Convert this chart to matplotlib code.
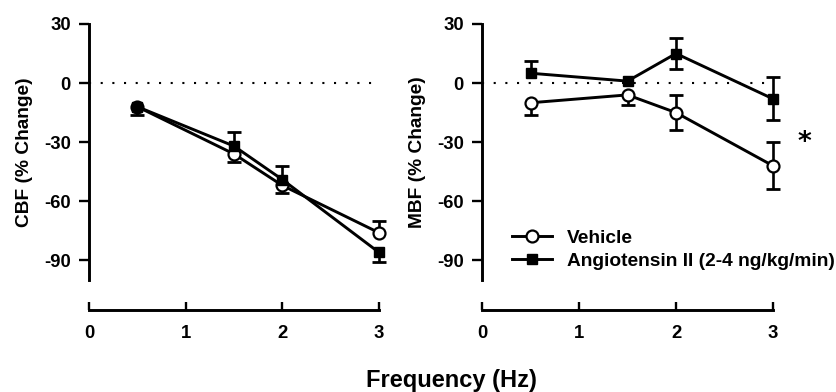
import numpy as np
import matplotlib
matplotlib.use("Agg")
import matplotlib.pyplot as plt

# ---------------- data ----------------
freq = np.array([0.5, 1.5, 2.0, 3.0])

cbf_vehicle = np.array([-12, -36, -52, -76])
cbf_vehicle_lo = np.array([4, 4, 4, 0])
cbf_vehicle_hi = np.array([0, 0, 0, 6])
cbf_ang = np.array([-12, -32, -49, -86])
cbf_ang_lo = np.array([0, 0, 0, 5])
cbf_ang_hi = np.array([0, 7, 7, 0])

mbf_vehicle = np.array([-10, -6, -15, -42])
mbf_vehicle_lo = np.array([6, 5, 9, 12])
mbf_vehicle_hi = np.array([0, 0, 9, 12])
mbf_ang = np.array([5, 1, 15, -8])
mbf_ang_lo = np.array([0, 0, 8, 11])
mbf_ang_hi = np.array([6, 0, 8, 11])

yticks = [30, 0, -30, -60, -90]
xticks = [0, 1, 2, 3]
series_labels = ["Vehicle", "Angiotensin II (2-4 ng/kg/min)"]
ylabels = ["CBF (% Change)", "MBF (% Change)"]
xlabel = "Frequency (Hz)"

# ---------------- style ----------------
plt.rcParams['font.family'] = ['Liberation Sans', 'DejaVu Sans']
plt.rcParams['font.weight'] = 'bold'
plt.rcParams['axes.labelweight'] = 'bold'
plt.rcParams['axes.unicode_minus'] = False

W, H = 836, 392
fig = plt.figure(figsize=(W / 100, H / 100), dpi=100)

LW = 2.1
TICKFS = 13.3


def errbars(ax, x, y, lo, hi):
    sel = lo > 0
    ax.vlines(x[sel], y[sel] - lo[sel], y[sel], colors='black', lw=1.9, zorder=2, clip_on=False)
    ax.plot(x[sel], y[sel] - lo[sel], ls='none', marker='_', ms=9.5, mew=2.0, color='black', zorder=2, clip_on=False)
    sel = hi > 0
    ax.vlines(x[sel], y[sel], y[sel] + hi[sel], colors='black', lw=1.9, zorder=2, clip_on=False)
    ax.plot(x[sel], y[sel] + hi[sel], ls='none', marker='_', ms=9.5, mew=2.0, color='black', zorder=2, clip_on=False)


def panel(rect, veh, veh_lo, veh_hi, ang, ang_lo, ang_hi, ylabel):
    ax = fig.add_axes(rect)
    ax.axhline(0, color='black', lw=1.5, ls=(0, (1, 4.6)), zorder=1)
    errbars(ax, freq, veh, veh_lo, veh_hi)
    errbars(ax, freq, ang, ang_lo, ang_hi)
    h1, = ax.plot(freq, veh, color='black', lw=LW, marker='o', ms=8.6,
                  mfc='white', mec='black', mew=1.6, zorder=3, clip_on=False)
    h2, = ax.plot(freq, ang, color='black', lw=LW, marker='s', ms=7.6,
                  mfc='black', mec='black', mew=1.0, zorder=3, clip_on=False)
    ax.set_xlim(0, 3)
    ax.set_ylim(-100, 30)
    ax.set_yticks(yticks)
    ax.set_xticks(xticks)
    for s in ['top', 'right']:
        ax.spines[s].set_visible(False)
    ax.spines['left'].set_linewidth(LW)
    ax.spines['bottom'].set_linewidth(LW)
    ax.spines['bottom'].set_position(('outward', 21.6))
    ax.spines['bottom'].set_bounds(0, 3)
    ax.tick_params(axis='y', direction='out', length=7.2, width=1.7, pad=6, labelsize=TICKFS)
    ax.tick_params(axis='x', direction='in', length=6, width=1.7, pad=11, labelsize=TICKFS)
    ax.set_ylabel(ylabel, fontsize=13.8, fontweight='bold')
    ax.yaxis.set_label_coords(-0.194, 0.5)
    ax.patch.set_visible(False)
    return ax, h1, h2


bottom = (H - 280) / H
height = (280 - 24) / H
ax1, _, _ = panel([89 / W, bottom, 290 / W, height], cbf_vehicle, cbf_vehicle_lo, cbf_vehicle_hi,
                  cbf_ang, cbf_ang_lo, cbf_ang_hi, ylabels[0])
ax2, h1, h2 = panel([482 / W, bottom, 291 / W, height], mbf_vehicle, mbf_vehicle_lo, mbf_vehicle_hi,
                    mbf_ang, mbf_ang_lo, mbf_ang_hi, ylabels[1])

ax2.legend([h1, h2], series_labels, loc='upper left', bbox_to_anchor=(0.103, 0.197),
           frameon=False, borderpad=0, borderaxespad=0, handlelength=2.1,
           handletextpad=0.75, labelspacing=0.3, numpoints=1,
           prop={'weight': 'bold', 'size': 13.8})

ax2.text(3.32, -30.5, "*", ha='center', va='center', fontsize=19,
         family='DejaVu Sans', fontweight='bold')

fig.text(451.5 / W, (H - 387.5) / H, xlabel, ha='center', va='baseline', fontsize=17, fontweight='bold')

fig.savefig("out.png", dpi=100)
